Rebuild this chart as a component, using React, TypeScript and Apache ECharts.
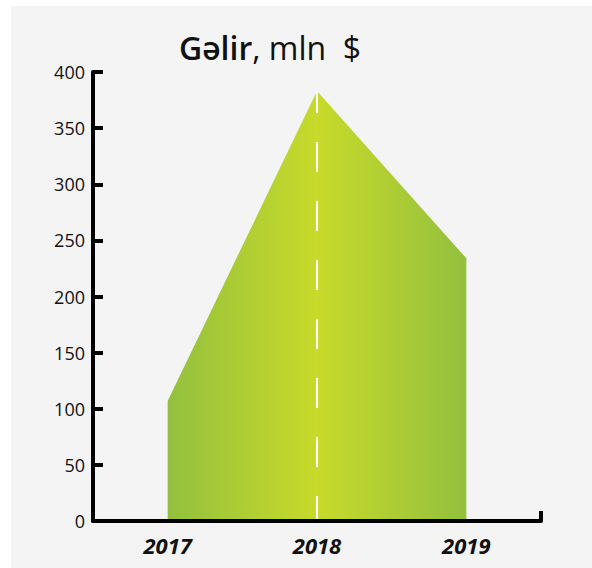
import React, { useEffect, useRef } from "react";
import * as echarts from "echarts";

const categories = ["2017", "2018", "2019"];
const revenue = [107, 383, 234];
const yTicks = { min: 0, max: 400, interval: 50 };
const titleMain = "Gəlir";
const titleRest = ", mln  $";

export default function App() {
  const ref = useRef<HTMLDivElement>(null);
  useEffect(() => {
    if (!ref.current) return;
    const chart = echarts.init(ref.current, undefined, { renderer: "svg" });
    const peakIdx = revenue.indexOf(Math.max(...revenue));
    chart.setOption({
      animation: false,
      backgroundColor: "#f4f4f4",
      title: {
        text: `{a|${titleMain}}{b|${titleRest}}`,
        left: 259,
        top: 25,
        padding: 0,
        textAlign: "center",
        textStyle: {
          rich: {
            a: { fontFamily: "Open Sans", fontSize: 32, fontWeight: 600, color: "#111" },
            b: { fontFamily: "Open Sans", fontSize: 32, fontWeight: 500, color: "#111" },
          },
        },
      },
      grid: { left: 82, right: 51, top: 66, bottom: 47 },
      xAxis: [
        {
          type: "category",
          data: categories,
          boundaryGap: true,
          z: 5,
          axisLine: { lineStyle: { color: "#000", width: 4 } },
          axisTick: { show: false },
          axisLabel: {
            margin: 13,
            fontFamily: "Open Sans",
            fontSize: 22,
            fontWeight: 700,
            fontStyle: "italic",
            color: "#111",
          },
          splitLine: { show: false },
        },
        {
          type: "value",
          position: "bottom",
          min: 0,
          max: 1,
          interval: 1,
          z: 5,
          axisLine: { show: false },
          axisTick: { show: true, inside: true, length: 10, lineStyle: { color: "#000", width: 4 } },
          axisLabel: { show: false },
          splitLine: { show: false },
        },
      ],
      yAxis: {
        type: "value",
        min: yTicks.min,
        max: yTicks.max,
        interval: yTicks.interval,
        z: 5,
        axisLine: { show: true, lineStyle: { color: "#000", width: 4 } },
        axisTick: { show: true, inside: true, length: 10, lineStyle: { color: "#000", width: 4 } },
        axisLabel: { margin: 8, fontFamily: "Open Sans", fontSize: 18, color: "#111" },
        splitLine: { show: false },
      },
      series: [
        {
          type: "line",
          xAxisIndex: 0,
          data: revenue,
          symbol: "none",
          lineStyle: { width: 0 },
          areaStyle: {
            opacity: 1,
            color: new echarts.graphic.LinearGradient(0, 0, 1, 0, [
              { offset: 0, color: "#93c03e" },
              { offset: 0.5, color: "#c8da2a" },
              { offset: 1, color: "#93c03e" },
            ]),
          },
          markLine: {
            silent: true,
            symbol: "none",
            label: { show: false },
            lineStyle: { color: "#ffffff", width: 2, type: [30, 29], dashOffset: 8, opacity: 1 },
            data: [
              [
                { coord: [categories[peakIdx], revenue[peakIdx]] },
                { coord: [categories[peakIdx], 0] },
              ],
            ],
          },
        },
      ],
    });
    return () => chart.dispose();
  }, []);
  return (
    <div style={{ position: "absolute", left: 0, top: 0, width: 592, height: 568, background: "#fff" }}>
      <div ref={ref} style={{ position: "absolute", left: 11, top: 6, width: 581, height: 562 }} />
    </div>
  );
}
